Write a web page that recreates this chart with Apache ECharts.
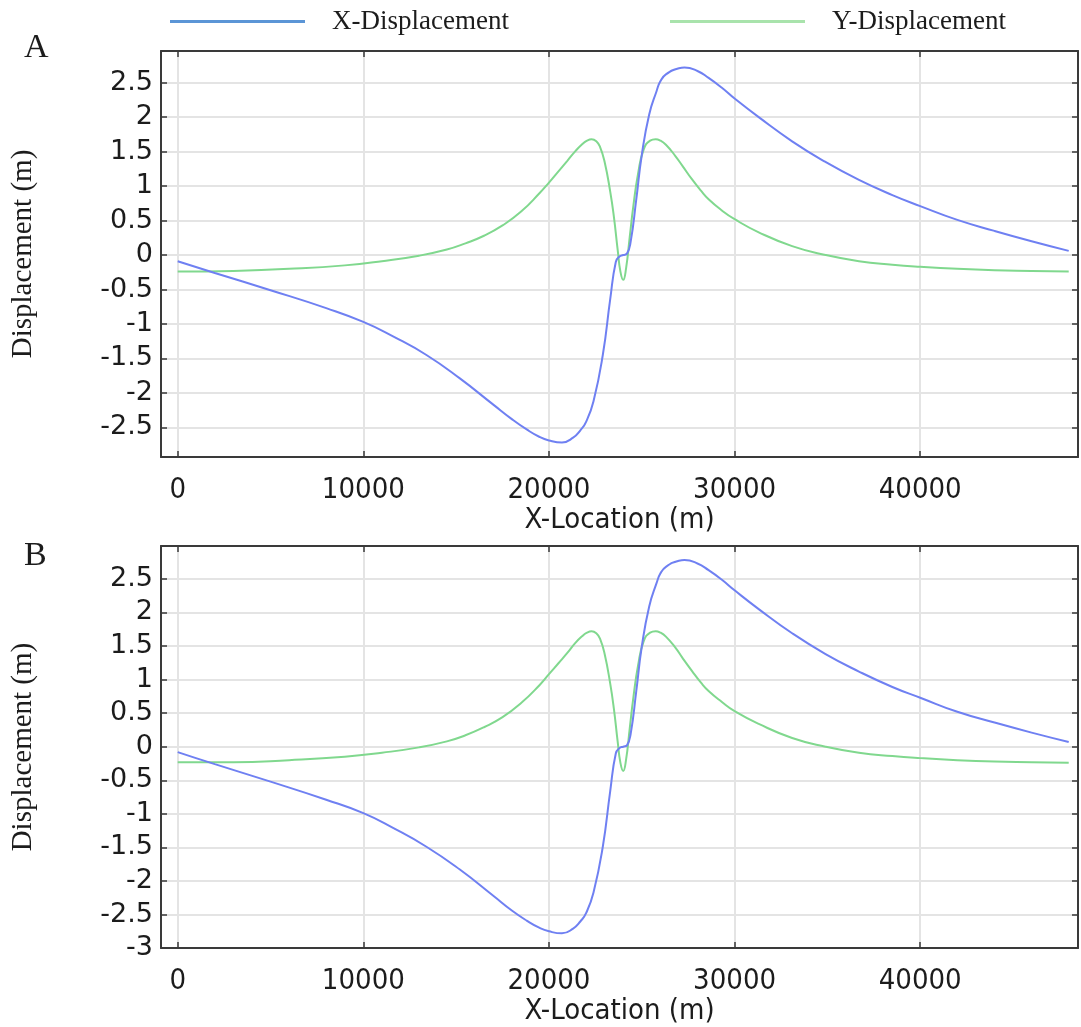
<!DOCTYPE html>
<html>
<head>
<meta charset="utf-8">
<script src="https://cdn.jsdelivr.net/npm/echarts@6/dist/echarts.min.js"></script>
<style>
  html, body { margin: 0; padding: 0; background: #fff; }
  #chart { width: 1081px; height: 1027px; }
</style>
</head>
<body>
<div id="chart"></div>
<script>
// Profile along the fault trace: surface displacement vs x-location (m)
const blueX = [0, 2000, 5000, 8000, 10000, 11600, 13400, 15200, 17000, 18000, 18800, 19500, 20000, 20700,
  21300, 21700, 22000, 22400, 22900, 23300, 23600, 23800, 24000, 24200, 24400, 24700, 25000, 25400,
  25800, 26000, 26300, 27000, 27300, 28000, 28600, 29300, 30000, 31300, 33100, 34900, 36700, 38500, 40000, 42000,
  44000, 46000, 48000];
const xDispA = [-0.09, -0.26, -0.51, -0.77, -0.97, -1.18, -1.45, -1.79, -2.17, -2.38, -2.53, -2.64, -2.69, -2.72,
  -2.65, -2.54, -2.42, -2.12, -1.45, -0.64, -0.10, -0.02, 0.0, 0.02, 0.19, 0.80, 1.45, 2.04,
  2.38, 2.52, 2.62, 2.71, 2.72, 2.67, 2.57, 2.43, 2.27, 2.00, 1.65, 1.35, 1.09, 0.87, 0.71, 0.51,
  0.35, 0.20, 0.06];
const xDispB = [-0.08, -0.26, -0.52, -0.79, -0.99, -1.21, -1.49, -1.83, -2.22, -2.44, -2.59, -2.70, -2.75, -2.78,
  -2.71, -2.60, -2.48, -2.17, -1.49, -0.66, -0.10, -0.02, 0.0, 0.02, 0.19, 0.82, 1.49, 2.09,
  2.44, 2.58, 2.68, 2.77, 2.78, 2.73, 2.63, 2.49, 2.33, 2.05, 1.69, 1.38, 1.12, 0.89, 0.73, 0.52,
  0.36, 0.21, 0.07];

const greenX = [0, 3000, 6000, 9000, 11000, 13000, 14500, 15500, 16500, 17500, 18500, 19500, 20000, 20500,
  21000, 21400, 21800, 22050, 22300, 22550, 22750, 23000, 23300, 23500, 23700, 23850, 24000, 24150,
  24350, 24550, 24800, 25100, 25450, 25750, 26000, 26300, 26800, 27200, 27700, 28200, 28600, 29300,
  30000, 31300, 33100, 34900, 36700, 38500, 40000, 42000, 44000, 46000, 48000];
const yDispA = [-0.24, -0.23, -0.20, -0.15, -0.09, -0.01, 0.08, 0.17, 0.28, 0.43, 0.63, 0.90, 1.05, 1.21,
  1.37, 1.50, 1.61, 1.66, 1.68, 1.65, 1.57, 1.35, 0.92, 0.55, 0.08, -0.24, -0.36, -0.20,
  0.26, 0.72, 1.18, 1.53, 1.66, 1.68, 1.66, 1.60, 1.44, 1.29, 1.10, 0.93, 0.81, 0.65,
  0.52, 0.33, 0.13, 0.00, -0.09, -0.14, -0.17, -0.20, -0.22, -0.23, -0.24];
const yDispB = [-0.23, -0.23, -0.20, -0.15, -0.09, -0.01, 0.08, 0.17, 0.29, 0.44, 0.65, 0.92, 1.08, 1.24,
  1.40, 1.54, 1.65, 1.70, 1.72, 1.69, 1.61, 1.38, 0.94, 0.56, 0.08, -0.24, -0.36, -0.20,
  0.27, 0.74, 1.21, 1.57, 1.70, 1.72, 1.70, 1.64, 1.48, 1.32, 1.13, 0.95, 0.83, 0.67,
  0.53, 0.34, 0.13, 0.00, -0.09, -0.14, -0.17, -0.20, -0.22, -0.23, -0.24];

const seriesNames = ['X-Displacement', 'Y-Displacement'];
const panelLetters = ['A', 'B'];
const xAxisTitle = 'X-Location (m)';
const yAxisTitle = 'Displacement (m)';

const xRange = [-900, 48500];
const yRanges = [[-2.93, 2.96], [-3, 2.99]];

const BLUE = '#6f80f2';
const GREEN = '#80d88e';
const AXIS = '#3a3a3a';
const GRID = '#e4e4e4';
const TXT = '#1c1c1c';

const grids = [
  { left: 161, top: 51, width: 919, height: 406 },
  { left: 161, top: 546, width: 919, height: 406 }
];

const pair = (xs, ys) => xs.map((x, i) => [x, ys[i]]);

const xLabel = v => (Math.abs(v % 10000) < 1e-6 ? String(v) : '');
const yLabel = v => (Math.abs(v * 2 - Math.round(v * 2)) < 1e-6 ? String(Math.round(v * 2) / 2) : '');

const xAxes = [], yAxes = [], series = [];
grids.forEach((g, gi) => {
  // bottom axis with labels and title
  xAxes.push({
    type: 'value', gridIndex: gi, position: 'bottom', min: xRange[0], max: xRange[1],
    minInterval: 10000, maxInterval: 10000, splitNumber: 5,
    axisLine: { show: true, onZero: false, lineStyle: { color: AXIS, width: 2 } },
    axisTick: { show: true, inside: true, length: 6, lineStyle: { color: AXIS, width: 1.5 } },
    axisLabel: { formatter: xLabel, margin: 19, color: TXT, fontFamily: 'DejaVu Sans Condensed, DejaVu Sans', fontSize: 29 },
    splitLine: { show: true, lineStyle: { color: GRID, width: 2 } },
    name: xAxisTitle, nameLocation: 'middle', nameGap: 41,
    nameTextStyle: { color: TXT, fontFamily: 'DejaVu Sans Condensed, DejaVu Sans', fontSize: 29 }
  });
  // top frame edge with inward ticks
  xAxes.push({
    type: 'value', gridIndex: gi, position: 'top', min: xRange[0], max: xRange[1],
    minInterval: 10000, maxInterval: 10000, splitNumber: 5,
    axisLine: { show: true, onZero: false, lineStyle: { color: AXIS, width: 2 } },
    axisTick: { show: true, inside: true, length: 6, lineStyle: { color: AXIS, width: 1.5 } },
    axisLabel: { show: false }, splitLine: { show: false }
  });
  const yr = yRanges[gi];
  yAxes.push({
    type: 'value', gridIndex: gi, position: 'left', min: yr[0], max: yr[1],
    minInterval: 0.5, maxInterval: 0.5, splitNumber: 12,
    axisLine: { show: true, onZero: false, lineStyle: { color: AXIS, width: 2 } },
    axisTick: { show: true, inside: true, length: 6, lineStyle: { color: AXIS, width: 1.5 } },
    axisLabel: { formatter: yLabel, margin: 8, color: TXT, fontFamily: 'DejaVu Sans', fontSize: 27 },
    splitLine: { show: true, lineStyle: { color: GRID, width: 2 } },
    name: yAxisTitle, nameLocation: 'middle', nameGap: 123,
    nameTextStyle: { color: TXT, fontFamily: 'Liberation Serif', fontSize: 29 }
  });
  yAxes.push({
    type: 'value', gridIndex: gi, position: 'right', min: yr[0], max: yr[1],
    minInterval: 0.5, maxInterval: 0.5, splitNumber: 12,
    axisLine: { show: true, onZero: false, lineStyle: { color: AXIS, width: 2 } },
    axisTick: { show: true, inside: true, length: 6, lineStyle: { color: AXIS, width: 1.5 } },
    axisLabel: { show: false }, splitLine: { show: false }
  });

  const xd = gi === 0 ? xDispA : xDispB;
  const yd = gi === 0 ? yDispA : yDispB;
  series.push({
    name: seriesNames[0], type: 'line', xAxisIndex: gi * 2, yAxisIndex: gi * 2,
    data: pair(blueX, xd), symbol: 'none', smooth: 0.5,
    lineStyle: { color: BLUE, width: 2 }, itemStyle: { color: BLUE }, z: 3
  });
  series.push({
    name: seriesNames[1], type: 'line', xAxisIndex: gi * 2, yAxisIndex: gi * 2,
    data: pair(greenX, yd), symbol: 'none', smooth: 0.5,
    lineStyle: { color: GREEN, width: 2 }, itemStyle: { color: GREEN }, z: 2
  });
});

const legendText = { color: TXT, fontFamily: 'Liberation Serif', fontSize: 27, padding: [0, 0, 0, 22] };
const option = {
  animation: false,
  backgroundColor: '#ffffff',
  title: [
    { text: panelLetters[0], left: 19, top: 26, textStyle: { fontFamily: 'Liberation Serif', fontWeight: 'normal', fontSize: 34, color: TXT } },
    { text: panelLetters[1], left: 19, top: 534, textStyle: { fontFamily: 'Liberation Serif', fontWeight: 'normal', fontSize: 34, color: TXT } }
  ],
  legend: [
    { left: 165, top: 3, icon: 'rect', itemWidth: 135, itemHeight: 3, selectedMode: false,
      data: [{ name: seriesNames[0], itemStyle: { color: '#5b95d6' } }], textStyle: legendText },
    { left: 665, top: 3, icon: 'rect', itemWidth: 135, itemHeight: 3, selectedMode: false,
      data: [{ name: seriesNames[1], itemStyle: { color: '#a9e3ac' } }], textStyle: legendText }
  ],
  grid: grids,
  xAxis: xAxes,
  yAxis: yAxes,
  series: series
};

const chart = echarts.init(document.getElementById('chart'), null, { renderer: 'canvas' });
chart.setOption(option);
</script>
</body>
</html>
